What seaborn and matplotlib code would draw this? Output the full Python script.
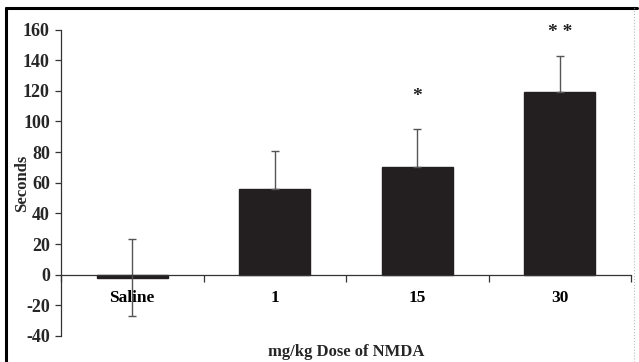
import matplotlib
matplotlib.use("Agg")
import matplotlib.pyplot as plt
from matplotlib.lines import Line2D
from matplotlib.ticker import FixedLocator
import seaborn as sns
import pandas as pd

categories = ["Saline", "1", "15", "30"]
means = [-2, 56, 70, 119]
err_upper = [25, 25, 25, 24]
err_lower = [25, 0, 0, 0]
stars = ["", "", "*", "* *"]
star_y = [0, 0, 116, 158]
yticks = [-40, -20, 0, 20, 40, 60, 80, 100, 120, 140, 160]

sns.set_theme(style="white")
plt.rcParams["font.family"] = ["Liberation Serif", "DejaVu Serif"]
plt.rcParams["font.weight"] = "bold"

df = pd.DataFrame({"dose": categories, "sec": means})

fig = plt.figure(figsize=(6.39, 3.62), dpi=100)
ax = fig.add_axes([61/639, 1-336/362, (631-61)/639, (336-29.5)/362])

sns.barplot(data=df, x="dose", y="sec", color="#231f20", saturation=1,
            width=0.5, errorbar=None, ax=ax, order=categories)
for p in ax.patches:
    p.set_edgecolor("#231f20")

ax.errorbar(range(len(categories)), means, yerr=[err_lower, err_upper],
            fmt="none", ecolor="#555555", elinewidth=1.0, capsize=3, capthick=1.0)

for i, s in enumerate(stars):
    if s:
        ax.text(i, star_y[i], s, ha="center", va="center", fontsize=14,
                fontweight="bold", color="#222222")

ax.set_xlim(-0.5, 3.5)
ax.set_ylim(-40, 160)
ax.set_yticks(yticks)
ax.set_yticklabels([str(v) for v in yticks], fontsize=13, fontweight="bold")

for s in ["top", "right"]:
    ax.spines[s].set_visible(False)
ax.spines["bottom"].set_position(("data", 0))
ax.spines["left"].set_color("#333333")
ax.spines["bottom"].set_color("#333333")
ax.spines["left"].set_linewidth(0.9)
ax.spines["bottom"].set_linewidth(0.9)

ax.set_xticks(range(len(categories)))
ax.set_xticklabels(categories, fontsize=12.5, fontweight="bold")
ax.xaxis.set_minor_locator(FixedLocator([-0.5, 0.5, 1.5, 2.5, 3.5]))
ax.tick_params(axis="x", which="major", length=0, pad=11, colors="black")
ax.tick_params(axis="x", which="minor", length=5, width=0.9, direction="out",
               color="#333333", bottom=True)
ax.tick_params(axis="y", length=4, width=0.9, direction="out", left=True,
               color="#333333", pad=4)

ax.set_xlabel("")
ax.set_ylabel("")
fig.text(22/639, 1 - 183/362, "Seconds", rotation=90, ha="center", va="center",
         fontsize=12, fontweight="bold")
fig.text(0.5 * (61 + 631) / 639, 1 - 352/362, "mg/kg Dose of NMDA",
         ha="center", va="center", fontsize=12, fontweight="bold")

# page frame
fig.add_artist(Line2D([6/639, 6/639], [0, 1-7.5/362], transform=fig.transFigure,
                      color="black", lw=2.2))
fig.add_artist(Line2D([6/639, 637/639], [1-7.5/362, 1-7.5/362],
                      transform=fig.transFigure, color="black", lw=2.2))
fig.add_artist(Line2D([634/639, 634/639], [0, 1-7.5/362], transform=fig.transFigure,
                      color="#bbbbbb", lw=0.8, ls=":"))

fig.savefig("out.png", dpi=100)
